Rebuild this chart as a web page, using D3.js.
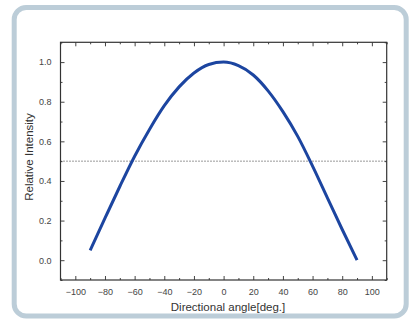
<!DOCTYPE html>
<html>
<head>
<meta charset="utf-8">
<script src="https://cdn.jsdelivr.net/npm/d3@7"></script>
<style>
  body { margin: 0; background: #fff; }
  svg { display: block; font-family: "Liberation Sans", Arial, sans-serif; }
</style>
</head>
<body>
<svg id="chart" width="409" height="324"></svg>
<script>
// angle (deg) and measured relative intensity
var angles = [-90, -80, -70, -60, -50, -40, -30, -20, -10, 0, 10, 20, 30, 40, 50, 60, 70, 80, 90];
var intensity = [0.05, 0.212, 0.372, 0.525, 0.66, 0.78, 0.875, 0.945, 0.988, 1.0, 0.982, 0.935, 0.855, 0.75, 0.625, 0.475, 0.315, 0.155, 0.0];
var xTicks = [-100, -80, -60, -40, -20, 0, 20, 40, 60, 80, 100];
var yTicks = [0.0, 0.2, 0.4, 0.6, 0.8, 1.0];
var halfLevel = 0.5;

var svg = d3.select("#chart");

// rounded frame
svg.append("rect")
  .attr("x", 14.2).attr("y", 7.5)
  .attr("width", 392).attr("height", 308.5)
  .attr("rx", 12).attr("ry", 12)
  .attr("fill", "#fff")
  .attr("stroke", "#bccdd8")
  .attr("stroke-width", 5);

var margin = {left: 60.5, top: 42.3, right: 386.7, bottom: 280};

var x = d3.scaleLinear().domain([-110, 110]).range([margin.left, margin.right]);
var y = d3.scaleLinear().domain([-0.1, 1.1]).range([margin.bottom, margin.top]);

var minorX = d3.range(-110, 111, 10).filter(function(d){ return xTicks.indexOf(d) < 0; });
var minorY = d3.range(-1, 12).map(function(d){ return d / 10; })
  .filter(function(d){ return yTicks.every(function(t){ return Math.abs(t - d) > 1e-6; }); });

function styleAxis(g) {
  g.select(".domain").remove();
  g.selectAll(".tick line").attr("stroke", "#444");
  g.selectAll(".tick text").attr("fill", "#444").style("font-size", "9px");
}

// bottom axis, ticks inward
svg.append("g")
  .attr("transform", "translate(0," + margin.bottom + ")")
  .call(d3.axisBottom(x).tickValues(xTicks).tickSizeInner(-4).tickPadding(9).tickFormat(d3.format("d")))
  .call(styleAxis);
svg.append("g")
  .attr("transform", "translate(0," + margin.bottom + ")")
  .call(d3.axisBottom(x).tickValues(minorX).tickSize(-2).tickFormat(""))
  .call(styleAxis);

// top axis, no labels
svg.append("g")
  .attr("transform", "translate(0," + margin.top + ")")
  .call(d3.axisTop(x).tickValues(xTicks).tickSize(-4).tickFormat(""))
  .call(styleAxis);
svg.append("g")
  .attr("transform", "translate(0," + margin.top + ")")
  .call(d3.axisTop(x).tickValues(minorX).tickSize(-2).tickFormat(""))
  .call(styleAxis);

// left axis
svg.append("g")
  .attr("transform", "translate(" + margin.left + ",0)")
  .call(d3.axisLeft(y).tickValues(yTicks).tickSizeInner(-4).tickPadding(9).tickFormat(d3.format(".1f")))
  .call(styleAxis);
svg.append("g")
  .attr("transform", "translate(" + margin.left + ",0)")
  .call(d3.axisLeft(y).tickValues(minorY).tickSize(-2).tickFormat(""))
  .call(styleAxis);

// right axis
svg.append("g")
  .attr("transform", "translate(" + margin.right + ",0)")
  .call(d3.axisRight(y).tickValues(yTicks).tickSize(-4).tickFormat(""))
  .call(styleAxis);
svg.append("g")
  .attr("transform", "translate(" + margin.right + ",0)")
  .call(d3.axisRight(y).tickValues(minorY).tickSize(-2).tickFormat(""))
  .call(styleAxis);

// plot box
svg.append("rect")
  .attr("x", margin.left).attr("y", margin.top)
  .attr("width", margin.right - margin.left)
  .attr("height", margin.bottom - margin.top)
  .attr("fill", "none")
  .attr("stroke", "#333")
  .attr("stroke-width", 1.2);

// half level dotted line
svg.append("line")
  .attr("x1", margin.left).attr("x2", margin.right)
  .attr("y1", y(halfLevel)).attr("y2", y(halfLevel))
  .attr("stroke", "#333")
  .attr("stroke-width", 1)
  .attr("stroke-dasharray", "1,2");

// curve
var pts = angles.map(function(a, i){ return [a, intensity[i]]; });
var line = d3.line()
  .x(function(d){ return x(d[0]); })
  .y(function(d){ return y(d[1]); })
  .curve(d3.curveMonotoneX);

svg.append("path")
  .datum(pts)
  .attr("d", line)
  .attr("fill", "none")
  .attr("stroke", "#1c45a0")
  .attr("stroke-width", 3);

// titles
svg.append("text")
  .attr("x", 228).attr("y", 311)
  .attr("text-anchor", "middle")
  .attr("fill", "#333")
  .style("font-size", "11.5px")
  .text("Directional angle[deg.]");

svg.append("text")
  .attr("transform", "translate(33,157) rotate(-90)")
  .attr("text-anchor", "middle")
  .attr("fill", "#333")
  .style("font-size", "11.5px")
  .text("Relative Intensity");
</script>
</body>
</html>
